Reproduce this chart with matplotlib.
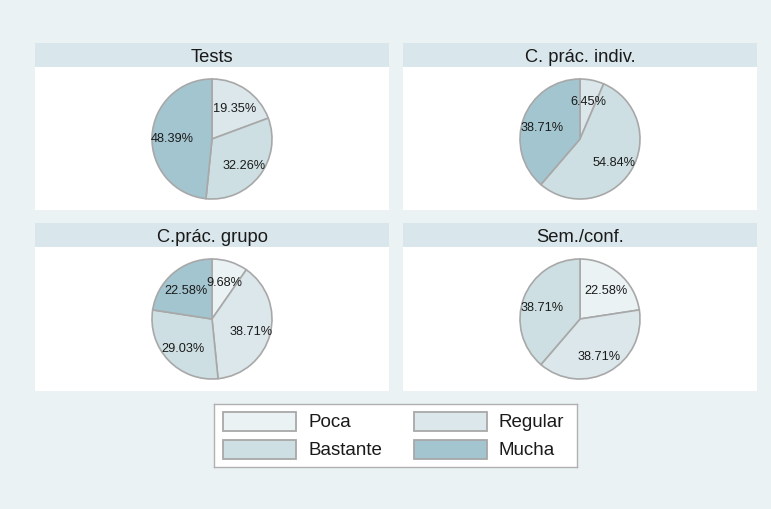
import matplotlib
matplotlib.use("Agg")
import matplotlib.pyplot as plt
from matplotlib.patches import Rectangle

plt.rcParams['font.family'] = ['Liberation Sans', 'DejaVu Sans']

categories = ["Poca", "Regular", "Bastante", "Mucha"]
panel_titles = ["Tests", "C. prác. indiv.", "C.prác. grupo", "Sem./conf."]
tests = [0.0, 19.35, 32.26, 48.39]
prac_indiv = [0.0, 6.45, 54.84, 38.71]
prac_grupo = [9.68, 38.71, 29.03, 22.58]
sem_conf = [22.58, 38.71, 38.71, 0.0]
series = [tests, prac_indiv, prac_grupo, sem_conf]

colors = ["#eaf2f4", "#dce7eb", "#cddfe2", "#a3c5d0"]
bg = "#eaf2f3"
bar = "#d9e6eb"
edge = "#a8a8a8"
txt = "#1a1a1a"

W, H = 771, 510
fig = plt.figure(figsize=(W / 100, H / 100), dpi=100, facecolor=bg)


def fx(x):
    return x / W


def fy(y):
    return 1 - y / H


# panel geometry in pixels: (x0, x1, title_top, title_bot, white_bot, pie_cy)
panels = [
    (35, 389, 44, 68, 211, 140),
    (403, 757, 44, 68, 211, 140),
    (35, 389, 224, 248, 392, 320),
    (403, 757, 224, 248, 392, 320),
]
R = 60.0

for (x0, x1, t0, t1, b, cy), title, vals in zip(panels, panel_titles, series):
    # title bar
    fig.add_artist(Rectangle((fx(x0), fy(t1)), fx(x1 - x0), (t1 - t0) / H,
                             transform=fig.transFigure, facecolor=bar,
                             edgecolor="none", zorder=0))
    fig.text(fx((x0 + x1) / 2), fy((t0 + t1) / 2), title, ha="center",
             va="center_baseline", fontsize=13.2, color=txt)
    ax = fig.add_axes([fx(x0), fy(b), fx(x1 - x0), (b - t1) / H])
    v = [val for val in vals if val > 0]
    c = [col for val, col in zip(vals, colors) if val > 0]
    wedges, texts, autotexts = ax.pie(
        v, colors=c, startangle=90, counterclock=False,
        autopct=lambda p: f"{p:.2f}%", pctdistance=0.67,
        wedgeprops=dict(edgecolor=edge, linewidth=1.2),
        textprops=dict(fontsize=9.2, color=txt))
    for t in autotexts:
        t.set_va("center_baseline")
    wpx = x1 - x0
    ax.set_aspect("auto")
    ax.set_xlim(-wpx / 2 / R, wpx / 2 / R)
    ax.set_ylim(-(b - cy) / R, (cy - t1) / R)
    ax.set_frame_on(True)
    ax.set_facecolor("white")
    for s in ax.spines.values():
        s.set_visible(False)
    ax.set_xticks([])
    ax.set_yticks([])

# legend drawn in pixel coordinates
lx0, lx1, ly0, ly1 = 214, 577, 405, 468
lax = fig.add_axes([fx(lx0), fy(ly1), fx(lx1 - lx0), (ly1 - ly0) / H])
lax.set_xlim(lx0, lx1)
lax.set_ylim(ly1, ly0)
lax.set_facecolor("white")
lax.set_xticks([])
lax.set_yticks([])
for s in lax.spines.values():
    s.set_color("#b0b0b0")
    s.set_linewidth(1.0)

cols_x = [223, 414]
rows_y = [413, 441]
for i, (cat, col) in enumerate(zip(categories, colors)):
    r, cidx = divmod(i, 2)
    px = cols_x[cidx]
    py = rows_y[r]
    lax.add_patch(Rectangle((px, py), 73, 19, facecolor=col,
                            edgecolor=edge, linewidth=1.3))
    lax.text(px + 85, py + 9.5, cat, ha="left", va="center",
             fontsize=13.5, color=txt)

fig.savefig("out.png", dpi=100, facecolor=bg)
